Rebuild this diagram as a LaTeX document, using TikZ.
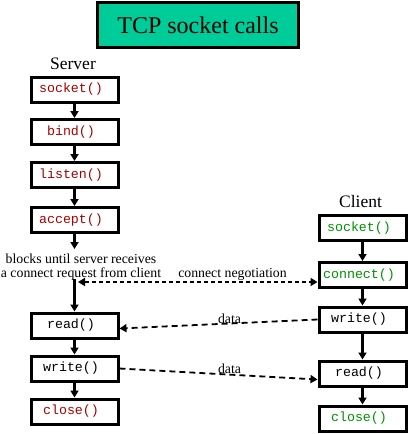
\documentclass[tikz,border=0pt]{standalone}
\usepackage{fontspec}
\setmainfont{Liberation Serif}
\setmonofont{Liberation Mono}
\usetikzlibrary{arrows.meta}
\definecolor{titlefill}{RGB}{0,204,153}
\definecolor{srvred}{RGB}{165,0,0}
\definecolor{cligreen}{RGB}{0,145,0}
\tikzset{
  callbox/.style={draw=black,line width=3pt,minimum width=87pt,minimum height=25pt,inner sep=0pt,
    font=\fontsize{13.3}{14}\selectfont\ttfamily,execute at end node={\hspace*{7pt}}},
  srv/.style={callbox,text=srvred},
  cli/.style={callbox,text=cligreen},
  plain/.style={callbox,text=black},
  flow/.style={line width=2.2pt,-{Triangle[length=7pt,width=8pt]}},
  conn/.style={line width=2.2pt,dash pattern=on 4pt off 3pt,{Triangle[length=7pt,width=8pt]}-{Triangle[length=7pt,width=8pt]}},
  dataarrow/.style={line width=1.8pt,dash pattern=on 6pt off 4pt,-{Triangle[length=7pt,width=8pt]}},
  side/.style={font=\fontsize{17.5}{18}\selectfont,anchor=base,inner sep=0pt},
  small/.style={font=\fontsize{13.8}{14}\selectfont,anchor=base,inner sep=0pt}
}
\begin{document}
\begin{tikzpicture}[x=1pt,y=-1pt]
\useasboundingbox (0,0) rectangle (408,434);
% title
\node[draw=black,line width=3pt,fill=titlefill,minimum width=201pt,minimum height=45pt,inner sep=0pt,
  font=\fontsize{24}{26}\selectfont] (title) at (198,25) {TCP socket calls};
% labels
\node[side] (srvlbl) at (73,69) {Server};
\node[side] (clilbl) at (360.5,207) {Client};
% server column
\node[srv] (ss) at (74.5,89.5) {socket()};
\node[srv] (sb) at (74.5,132) {bind()};
\node[srv] (sl) at (74.5,175) {listen()};
\node[srv] (sa) at (74.5,220) {accept()};
\node[plain] (sr) at (74.5,325.5) {read()};
\node[plain] (sw) at (74.5,368.5) {write()};
\node[srv] (sc) at (74.5,411.5) {close()};
% client column
\node[cli] (cs) at (362.5,228) {socket()};
\node[cli] (cc) at (362.5,275) {connect()};
\node[plain] (cw) at (362.5,319.5) {write()};
\node[plain] (cr) at (362.5,373.5) {read()};
\node[cli] (ccl) at (362.5,418.5) {close()};
% server flow
\draw[flow] (ss) -- (sb);
\draw[flow] (sb) -- (sl);
\draw[flow] (sl) -- (sa);
\coordinate (accend) at (74.5,249);
\draw[flow] (sa) -- (accend);
\node[small,align=center] (blocks) at (81,277) {blocks until server receives\\a connect request from client};
\coordinate (blk) at (74.5,279);
\draw[flow] (blk) -- (sr);
\draw[flow] (sr) -- (sw);
\draw[flow] (sw) -- (sc);
% client flow
\draw[flow] (cs) -- (cc);
\draw[flow] (cc) -- (cw);
\draw[flow] (cw) -- (cr);
\draw[flow] (cr) -- (ccl);
% connect negotiation
\coordinate (cn) at (78,282);
\draw[conn] (cn) -- (cn -| cc.west);
\node[small] (cnlbl) at (232.5,277) {connect negotiation};
% data
\draw[dataarrow] (cw.west) -- ([yshift=-3pt]sr.east);
\node[small] (d1) at (229.5,323) {data};
\draw[dataarrow] (sw.east) -- ([yshift=-6pt]cr.west);
\node[small] (d2) at (229.5,373) {data};
\end{tikzpicture}
\end{document}
